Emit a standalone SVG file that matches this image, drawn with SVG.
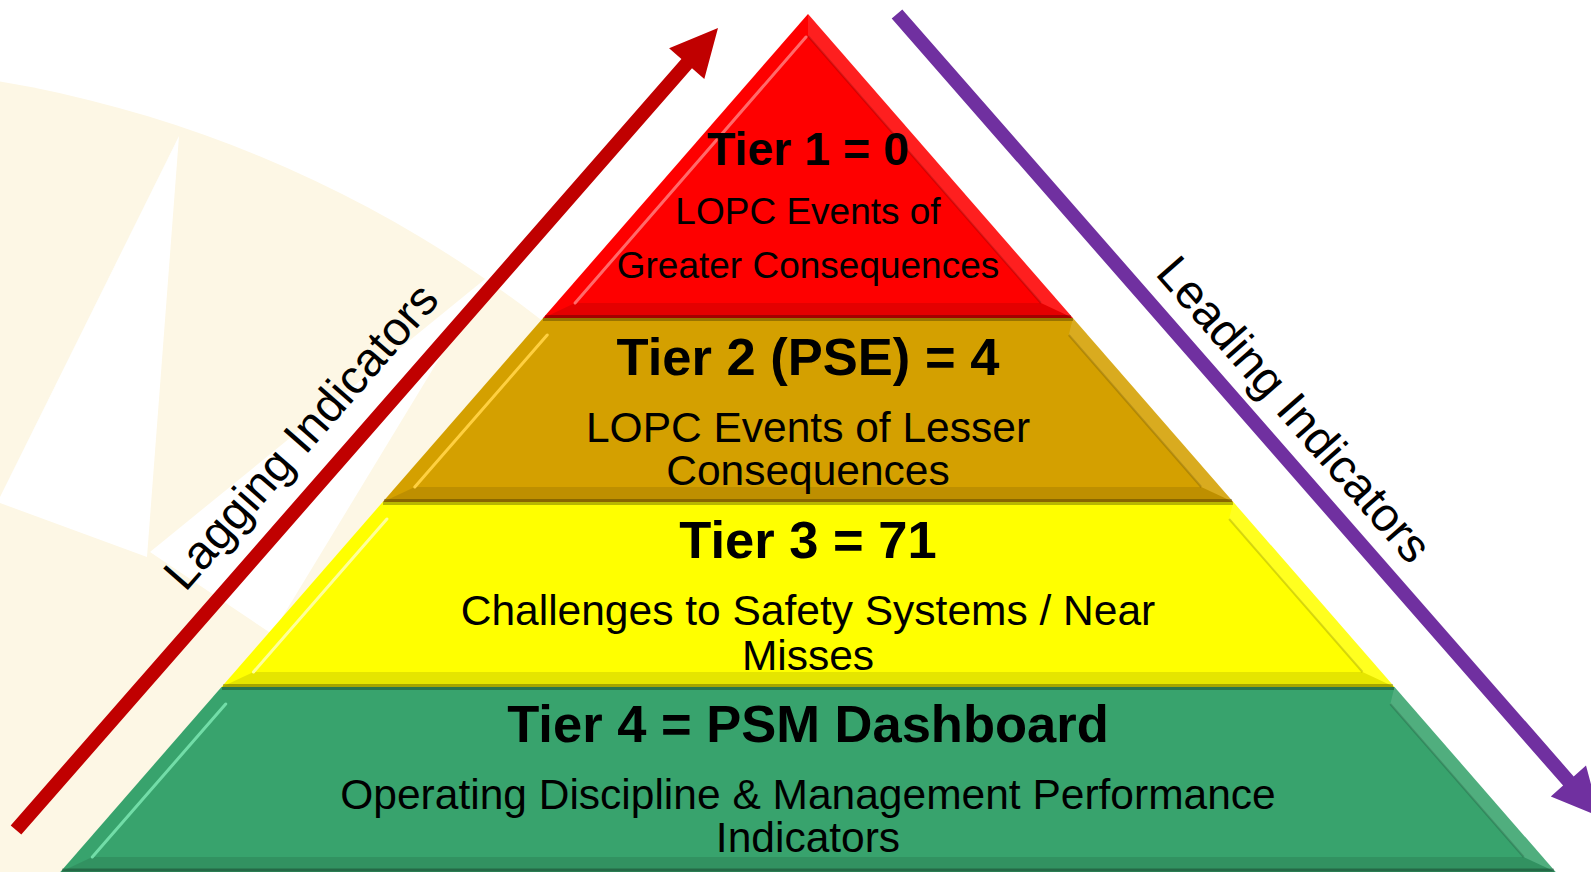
<svg xmlns="http://www.w3.org/2000/svg" width="1591" height="872" viewBox="0 0 1591 872">
  <style>
    text { font-family: "Liberation Sans", Arial, sans-serif; fill: #000; text-anchor: middle; }
    .title { font-weight: bold; font-size: 52.5px; }
    .title1 { font-weight: bold; font-size: 46.5px; }
    .desc { font-size: 42.5px; }
    .desc1 { font-size: 37px; }
    .side { font-size: 47.5px; }
    .hl { fill: none; stroke-width: 3; stroke-linecap: round; }
    .rframe { fill: #ffffff; opacity: 0.12; }
    .bframe { fill: #000000; opacity: 0.1; }
    .rline { fill: none; stroke: #000; stroke-opacity: 0.16; stroke-width: 2; }
    .bline { stroke: #000; stroke-opacity: 0.28; stroke-width: 3; }
  </style>

  <!-- background logo -->
  <g id="background">
    <rect x="0" y="0" width="1591" height="872" fill="#ffffff"/>
    <circle cx="-205" cy="1280" r="1216" fill="#FDF7E5"/>
    <polygon points="179,136 147,557 0,503 0,497" fill="#ffffff"/>
    <polygon points="490,275 150,552 272,634" fill="#ffffff"/>
  </g>

  <!-- Tier 4 -->
  <g id="tier4">
    <polygon points="221.5,687 1394.5,687 1555.7,872 60.3,872" fill="#38A36D"/>
    <polygon class="rframe" points="1394.5,687 1555.7,872 1523.7,857 1390.3,704"/>
    <polygon class="bframe" points="60.3,872 1555.7,872 1523.7,857 92.3,857"/>
    <polyline class="rline" points="1390.3,704 1523.7,857"/>
    <line class="hl" x1="225.7" y1="704" x2="92.3" y2="857" stroke="#72DDA8"/>
    <line class="bline" x1="62" y1="870" x2="1554" y2="870"/>
    <line class="bline" x1="222" y1="688.5" x2="1394" y2="688.5" stroke-opacity="0.35"/>
    <text class="title" x="808" y="742">Tier 4 = PSM Dashboard</text>
    <text class="desc" x="808" y="809">Operating Discipline &amp; Management Performance</text>
    <text class="desc" x="808" y="852">Indicators</text>
  </g>

  <!-- Tier 3 -->
  <g id="tier3">
    <polygon points="382.7,502 1233.3,502 1394.5,687 221.5,687" fill="#FFFF00"/>
    <polygon class="rframe" points="1233.3,502 1394.5,687 1362.5,672 1229.1,519"/>
    <polygon class="bframe" points="221.5,687 1394.5,687 1362.5,672 253.5,672" opacity="0.06"/>
    <polyline class="rline" points="1229.1,519 1362.5,672" stroke-opacity="0.1"/>
    <line class="hl" x1="386.9" y1="519" x2="253.5" y2="672" stroke="#FFFF9A"/>
    <line class="bline" x1="223" y1="685.5" x2="1393" y2="685.5" stroke="#6B6B00" stroke-opacity="0.45"/>
    <line class="bline" x1="383" y1="503.5" x2="1233" y2="503.5" stroke-opacity="0.25"/>
    <text class="title" x="808" y="558">Tier 3 = 71</text>
    <text class="desc" x="808" y="625">Challenges to Safety Systems / Near</text>
    <text class="desc" x="808" y="670">Misses</text>
  </g>

  <!-- Tier 2 -->
  <g id="tier2">
    <polygon points="543.1,318 1072.9,318 1233.3,502 382.7,502" fill="#D4A000"/>
    <polygon class="rframe" points="1072.9,318 1233.3,502 1201.2,487 1068.8,335"/>
    <polygon class="bframe" points="382.7,502 1233.3,502 1201.2,487 414.8,487"/>
    <polyline class="rline" points="1068.8,335 1201.2,487"/>
    <line class="hl" x1="547.2" y1="335" x2="414.8" y2="487" stroke="#FFD040"/>
    <line class="bline" x1="384" y1="500.5" x2="1232" y2="500.5" stroke-opacity="0.4"/>
    <line class="bline" x1="543" y1="319.5" x2="1073" y2="319.5" stroke-opacity="0.3"/>
    <text class="title" x="808" y="375">Tier 2 (PSE) = 4</text>
    <text class="desc" x="808" y="442">LOPC Events of Lesser</text>
    <text class="desc" x="808" y="485">Consequences</text>
  </g>

  <!-- Tier 1 -->
  <g id="tier1">
    <polygon points="808,14 1072.9,318 543.1,318" fill="#FE0000"/>
    <polygon class="rframe" points="808,14 1072.9,318 1040.9,303 808,36" opacity="0.08"/>
    <polygon class="bframe" points="543.1,318 1072.9,318 1040.9,303 575.1,303"/>
    <polyline class="rline" points="808,36 1040.9,303"/>
    <line class="hl" x1="806" y1="37" x2="575.1" y2="303" stroke="#FF6A6A"/>
    <line class="bline" x1="545" y1="316.5" x2="1071" y2="316.5" stroke-opacity="0.3"/>
    <text class="title1" x="808" y="165">Tier 1 = 0</text>
    <text class="desc1" x="808" y="224">LOPC Events of</text>
    <text class="desc1" x="808" y="278">Greater Consequences</text>
  </g>

  <!-- connectors -->
  <g id="connectors">
    <polygon id="lagging-arrow" fill="#C00000" points="10.7,825.4 681.4,59.1 669.1,48.3 718,28 704.3,79.1 692,68.3 21.3,834.6"/>
    <polygon id="leading-arrow" fill="#7030A0" points="902.3,9.4 1573.7,776.4 1586,765.6 1599.7,816.7 1550.8,796.4 1563.1,785.6 891.7,18.6"/>
  </g>

  <!-- side labels -->
  <g id="labels">
    <text class="side" transform="translate(313,447) rotate(-48.8)">Lagging Indicators</text>
    <text class="side" transform="translate(1282,420) rotate(48.8)">Leading Indicators</text>
  </g>
</svg>
